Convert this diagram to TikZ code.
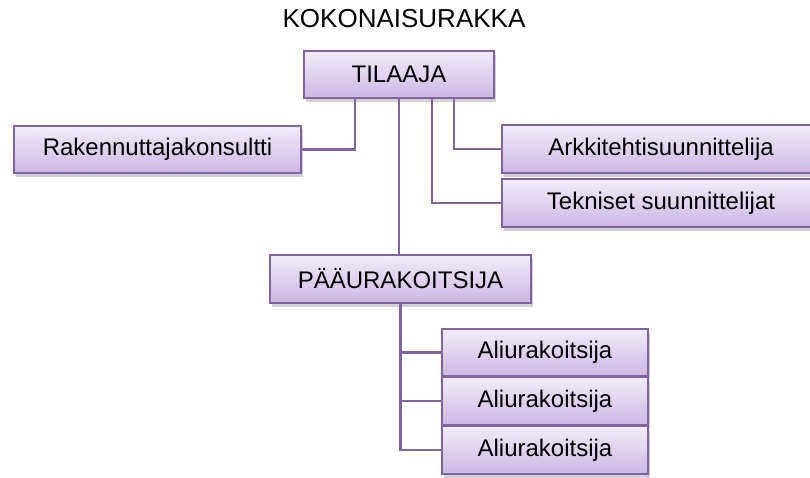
\documentclass[tikz,border=0pt]{standalone}
\usepackage{fontspec}
\setmainfont{Liberation Sans}
\usetikzlibrary{shadows,calc}
\definecolor{boxborder}{HTML}{8064A2}
\definecolor{boxtop}{HTML}{F2EDF9}
\definecolor{boxbot}{HTML}{CBB7E2}
\tikzset{
  orgbox/.style={draw=boxborder, line width=1.5pt, top color=boxtop, bottom color=boxbot,
    inner sep=0pt, font=\fontsize{24}{28}\selectfont,
    drop shadow={shadow xshift=2pt, shadow yshift=-4pt, fill=black, opacity=0.18}},
  conn/.style={draw=boxborder, line width=2.2pt}
}
\begin{document}
\begin{tikzpicture}[x=1pt,y=-1pt]
\useasboundingbox (0,0) rectangle (810,477);
\node[font=\fontsize{26}{30}\selectfont] (title) at (404,19) {KOKONAISURAKKA};
\node[orgbox, minimum width=190pt, minimum height=47pt] (tilaaja) at (399,74.5) {TILAAJA};
\node[orgbox, minimum width=287pt, minimum height=47pt] (rak) at (157.5,149.5) {Rakennuttajakonsultti};
\node[orgbox, minimum width=318pt, minimum height=48pt] (ark) at (661,149) {Arkkitehtisuunnittelija};
\node[orgbox, minimum width=318pt, minimum height=48pt] (tek) at (661,203) {Tekniset suunnittelijat};
\node[orgbox, minimum width=261pt, minimum height=48pt] (paa) at (400.5,279) {PÄÄURAKOITSIJA};
\node[orgbox, minimum width=206pt, minimum height=47pt] (ali1) at (545,352.5) {Aliurakoitsija};
\node[orgbox, minimum width=206pt, minimum height=48pt] (ali2) at (545,401) {Aliurakoitsija};
\node[orgbox, minimum width=206pt, minimum height=48pt] (ali3) at (545,450) {Aliurakoitsija};
\coordinate (t1) at ($(tilaaja.south west)+(52,0)$);
\coordinate (t3) at ($(tilaaja.south west)+(129,0)$);
\coordinate (t4) at ($(tilaaja.south west)+(151,0)$);
\draw[conn] (t1) |- (rak.east);
\draw[conn] (t4) |- (ark.west);
\draw[conn] (t3) |- (tek.west);
\draw[conn] (tilaaja.south) -- (tilaaja.south |- paa.north);
\draw[conn] (paa.south) |- (ali1.west);
\draw[conn] (paa.south) |- (ali2.west);
\draw[conn] (paa.south) |- (ali3.west);
\end{tikzpicture}
\end{document}
